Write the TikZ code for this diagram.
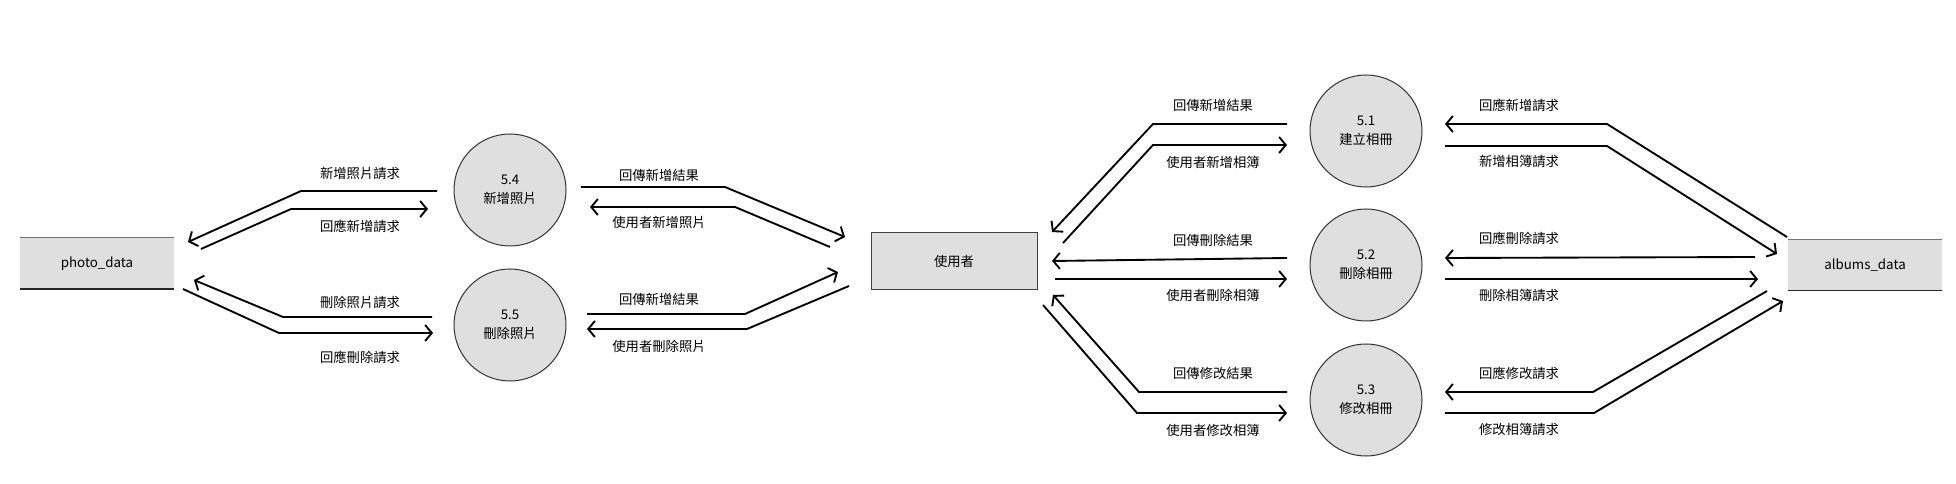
\documentclass[tikz,border=0pt]{standalone}
\usepackage{fontspec}
\newfontfamily\cjkfont{Noto Sans CJK TC}
\usetikzlibrary{arrows.meta}
\definecolor{dfdgray}{HTML}{DFDFDF}
\tikzset{
    proc/.style={circle, draw=black!80, line width=0.75pt, fill=dfdgray, minimum size=84pt, inner sep=0pt, align=center},
    store/.style={fill=dfdgray, minimum width=115.5pt, minimum height=38pt, inner sep=0pt},
    entity/.style={draw=black!75, line width=0.75pt, fill=dfdgray, minimum width=124.5pt, minimum height=42.75pt},
    flow/.style={line width=1.4pt, -{Straight Barb[length=5pt,width=12pt]}},
    lbl/.style={inner sep=0pt}
}
\begin{document}
\begin{tikzpicture}[x=0.75pt, y=-0.75pt, every node/.style={font=\cjkfont\fontsize{10}{14}\selectfont}]
                \useasboundingbox (0,0) rectangle (1956,484);
                \node[store] (photo) at (97,263.5) {photo\_data};
                \node[store] (albums) at (1865,265) {albums\_data};
                \foreach \s in {photo, albums} {
                    \draw[black!55, line width=0.9pt] (\s.north west) -- (\s.north east);
                    \draw[black!85, line width=0.9pt] (\s.south west) -- (\s.south east);
                }
                \node[entity] (user) at (954,261.5) {使用者};
                \foreach \n/\num/\x/\y/\txt in {p51/5.1/1366/131/建立相冊, p52/5.2/1366/265/刪除相冊,
                        p53/5.3/1366/400/修改相冊, p54/5.4/510/190/新增照片, p55/5.5/510/325/刪除照片}
                \node[proc] (\n) at (\x,\y) {\num\\\txt};
                \foreach \n/\ax/\ay/\bx/\by/\cx/\cy in {
                        l1/437/191/301/191/188/242, l2/201/249/291/209/428/209,
                        l3/432/317/283/317/194/280, l4/183/289/279/333/433/333,
                        m1/581/187/725/187/845/237, m2/830/247/735/207/590/207,
                        m3/587/314/745/314/838/272, m4/849/286/747/329/587/329,
                        r1/1287/124/1153/124/1052/232, r2/1063/243/1153/145/1287/145,
                        r3/1287/258/1170/259.5/1052/261, r4/1055/279/1171/279/1287/279,
                        r5/1287/392/1139/392/1053/295, r6/1043/305/1137/413/1287/413,
                        s1/1787/237/1607/124/1445/124, s2/1445/146/1607/146/1777/254,
                        s3/1755/257/1600/257.5/1445/258, s4/1445/279/1600/279/1758/279,
                        s5/1767/291/1593/392/1445/392, s6/1445/413/1594/413/1783/301} {
                    \coordinate (\n-s) at (\ax,\ay);
                    \coordinate (\n-b) at (\bx,\by);
                    \coordinate (\n-e) at (\cx,\cy);
                    \draw[flow] (\n-s) -- (\n-b) -- (\n-e);
                }
                \foreach \n/\x/\y/\txt in {
                        l1t/360/173/新增照片請求, l2t/360/226/回應新增請求,
                        l3t/360/302/刪除照片請求, l4t/360/357/回應刪除請求,
                        m1t/659/175/回傳新增結果, m2t/659/222/使用者新增照片,
                        m3t/659/299/回傳新增結果, m4t/659/346/使用者刪除照片,
                        r1t/1213/105/回傳新增結果, r2t/1213/162/使用者新增相簿,
                        r3t/1213/240/回傳刪除結果, r4t/1213/295/使用者刪除相簿,
                        r5t/1213/373/回傳修改結果, r6t/1213/430/使用者修改相簿,
                        s1t/1519/105/回應新增請求, s2t/1519/161/新增相簿請求,
                        s3t/1519/238/回應刪除請求, s4t/1519/295/刪除相簿請求,
                        s5t/1519/373/回應修改請求, s6t/1519/429/修改相簿請求}
                \node[lbl] (\n) at (\x,\y) {\txt};
            \end{tikzpicture}
\end{document}
